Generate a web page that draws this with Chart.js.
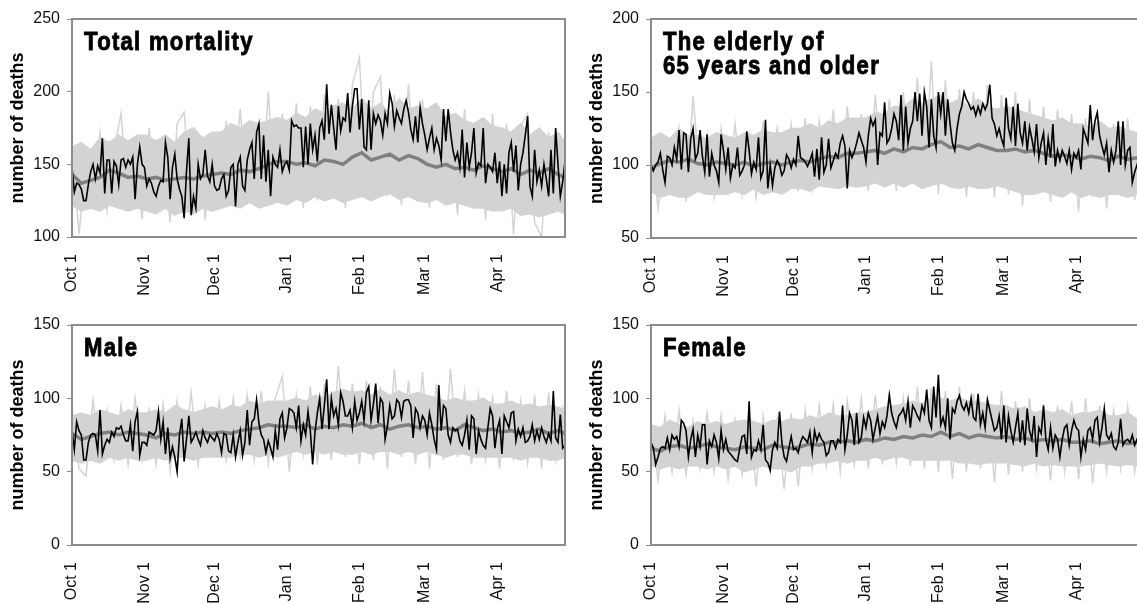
<!DOCTYPE html>
<html><head><meta charset="utf-8">
<script src="https://cdn.jsdelivr.net/npm/chart.js@4.4.1/dist/chart.umd.min.js"></script>
<style>
html,body{margin:0;padding:0;background:#fff;overflow:hidden;width:1137px;height:604px;position:relative;}
canvas{position:absolute;}
</style></head><body>
<canvas id="c1" width="570" height="302" style="left:0;top:0"></canvas>
<canvas id="c2" width="570" height="302" style="left:579px;top:0"></canvas>
<canvas id="c3" width="570" height="298" style="left:0;top:306px"></canvas>
<canvas id="c4" width="570" height="298" style="left:579px;top:306px"></canvas>
<script>
// ---- shared axis data ----
const tickDays = [0,31,61,92,123,151,182];
const tickLabels = ['Oct 1','Nov 1','Dec 1','Jan 1','Feb 1','Mar 1','Apr 1'];
const envDays = [0,4,8,12,16,20,24,28,32,36,40,44,48,52,56,60,64,68,72,76,80,84,88,92,96,100,104,108,112,116,120,124,128,132,136,140,144,148,152,156,160,164,168,172,176,180,184,188,192,196,200,204,208,211];
const spikeDays = [0,3,6,9,12,15,18,21,24,27,30,33,36,39,42,45,48,51,54,57,60,63,66,69,72,75,78,81,84,87,90,93,96,99,102,105,108,111,114,117,120,123,126,129,132,135,138,141,144,147,150,153,156,159,162,165,168,171,174,177,180,183,186,189,192,195,198,201,204,207,210];

// ---- Total mortality ----
const totalBlack = [
 148,131,137,136,133,125,125,136,145,150,140,149,144,168,130,153,153,130,152,149,136,153,154,148,153,150,155,126,150,162,150,
 148,135,140,137,131,128,135,139,138,165,155,126,148,157,140,133,128,113,145,168,115,128,120,150,140,143,160,142,138,150,
 135,132,133,140,143,128,132,148,150,121,150,155,135,132,153,160,165,140,172,178,140,170,138,160,128,155,150,148,160,145,150,
 152,146,180,176,177,175,175,148,176,150,178,160,170,152,175,180,167,205,171,191,175,160,190,173,182,180,199,172,190,202,202,
 174,195,162,160,194,160,185,178,184,180,170,185,178,199,192,176,187,182,178,188,194,186,174,167,183,165,189,178,
 170,160,168,175,160,168,163,153,188,166,188,172,160,153,158,148,174,141,165,148,158,175,144,151,149,175,137,150,148,145,158,
 137,152,128,150,130,158,165,145,163,132,150,158,170,183,135,128,160,138,146,135,150,140,128,160,130,175,150,128,138,152];
const totalAvg = [143,137,139,141,146,144,141,142, 140,141,139,140,141,140,142,143, 144,143,146,145,147,150,152, 152,150,151,149,153,152,150,155, 158,153,155,157,153,156,154, 150,148,150,147,148,146,149,147, 145,147,143,146,144,147,143,141];
const totalUpper = [162,165,160,168,165,170,166,170, 170,166,170,165,172,175,168,172, 172,178,175,180,178,180,182, 180,185,182,188,185,190,192,188, 195,188,192,185,195,188,190, 188,192,182,185,180,178,182,176, 175,172,178,170,175,168,172,165];
const totalLower = [122,118,120,118,122,120,118,120, 118,116,120,115,118,116,120,118, 120,122,120,124,120,122,124, 122,126,124,128,125,127,124,126, 128,125,128,130,126,128,125, 124,126,122,124,122,120,120,118, 118,120,115,116,114,116,118,116];
const totalSpike = [165,102,150,130,172,118,160,185,125,168, 112,175,130,160,110,178,186,125,170,112, 165,120,180,130,188,125,176,120,200,128, 185,130,192,120,190,125,198,130,195,120, 205,223,130,200,210,128,198,122,205,130, 195,120,192,125,185,115,188,120,180,112, 185,118,178,102,176,185,110,100,172,120, 165];

// ---- Elderly 65+ ----
const elderBlack = [
 100,96,100,102,108,97,88,106,105,100,112,104,124,97,122,121,95,118,125,104,108,124,106,95,121,92,108,100,96,88,121,
 110,97,112,91,100,98,112,93,96,100,123,110,94,102,97,119,91,96,131,84,100,86,98,103,100,93,96,107,104,98,
 104,100,120,105,104,102,99,103,108,92,111,90,119,95,100,118,98,103,108,105,115,120,113,84,110,105,109,115,122,117,112,
 102,120,132,127,131,100,122,120,143,115,118,125,135,130,117,148,110,140,115,125,130,150,130,149,120,150,140,112,145,120,112,
 150,135,150,120,145,128,115,110,125,135,140,150,145,142,138,140,134,140,135,142,138,142,155,132,128,120,125,118,
 113,146,125,118,140,113,142,122,115,130,110,126,118,109,128,105,115,122,100,118,105,128,99,110,103,110,106,101,110,97,108,
 105,110,97,125,120,115,141,117,130,136,120,113,107,115,95,110,102,110,130,100,130,100,110,112,88,95,100,105,98,100];
const elderAvg = [98,101,103,102,104,101,100,102, 101,100,102,99,101,102,100,102, 103,102,104,106,105,108,108, 109,110,108,111,109,112,111,114, 116,112,113,111,114,112,110, 110,111,109,110,108,106,107,106, 104,106,105,103,106,104,105,103];
const elderUpper = [118,122,118,125,120,120,118,122, 120,118,122,120,124,122,122,125, 125,128,125,130,128,132,132, 132,136,135,140,140,145,142,145, 148,142,145,140,145,140,138, 140,138,136,134,132,130,132,128, 128,126,130,125,126,124,122,120];
const elderLower = [82,78,80,78,78,82,80,80, 80,82,80,84,80,82,80,84, 84,82,86,85,84,86,85, 86,88,85,88,85,88,84,86, 88,85,84,86,84,84,86, 84,82,80,80,82,80,78,82, 78,80,78,80,80,78,80,82];
const elderSpike = [120,70,110,85,125,75,147,90,120,78, 125,82,128,80,120,78,130,84,125,85, 128,82,132,84,130,85,138,84,140,88, 135,82,148,86,145,82,150,88,160,85, 171,80,158,84,152,78,150,86,155,78, 148,80,150,72,145,80,140,75,138,80, 135,68,132,78,130,70,128,80,132,76, 125];

// ---- Male ----
const maleBlack = [
 78,65,84,78,75,58,58,70,75,76,75,64,92,62,68,72,70,77,74,80,79,81,75,71,71,82,64,84,91,61,70,
 70,68,77,76,75,78,91,72,84,62,80,59,67,60,50,75,86,57,72,88,70,73,77,72,68,78,73,70,75,73,
 71,76,72,63,76,75,64,63,75,60,70,78,61,70,92,68,84,86,99,83,75,72,63,71,66,60,78,65,86,90,73,
 80,93,92,90,80,95,71,82,75,91,78,55,77,90,100,79,95,113,79,100,88,93,82,104,98,88,88,92,80,98,85,
 90,98,85,104,108,85,96,110,83,100,97,72,81,95,86,88,99,97,87,98,99,99,95,73,93,90,80,88,
 85,75,90,82,72,65,109,78,95,93,75,70,80,78,79,71,68,75,85,65,88,86,62,78,72,68,66,80,93,88,66,
 79,85,62,88,84,80,90,91,71,79,74,80,70,71,74,82,71,78,72,80,74,70,76,71,105,73,70,89,66,68];
const maleAvg = [76,72,74,76,77,75,77,76, 75,73,76,75,77,76,77,76, 77,76,78,79,80,82,81, 81,80,82,79,81,80,82,81, 83,80,82,79,81,82,80, 81,79,80,78,82,80,78,79, 77,78,76,77,79,76,78,76];
const maleUpper = [88,90,88,92,90,88,92,90, 90,92,90,95,92,90,92,94, 92,95,94,98,96,98,98, 98,100,98,102,100,104,106,104, 105,102,106,102,105,102,104, 102,100,98,100,98,98,100,96, 96,98,95,96,94,95,94,92];
const maleLower = [58,56,58,56,60,58,60,58, 58,60,58,60,60,58,60,60, 60,60,62,62,60,62,60, 62,64,62,64,62,64,62,62, 64,62,64,64,62,64,62, 64,62,60,62,62,60,60,60, 60,60,58,60,60,58,58,60];
const maleSpike = [95,52,47,99,60,92,58,95,55,100, 58,92,55,96,50,98,60,104,55,95, 62,98,58,100,60,102,58,105,56,100, 115,50,102,62,108,55,110,58,122,60, 110,55,112,58,108,52,120,60,112,55, 118,52,110,58,120,60,105,55,102,58, 100,52,105,60,98,56,102,52,104,58, 95];

// ---- Female ----
const femaleBlack = [
 70,66,55,60,66,67,66,73,65,75,72,74,67,85,83,78,60,72,79,60,75,67,82,82,55,71,67,75,70,59,78,
 65,72,64,62,60,58,57,66,74,75,62,98,60,65,64,71,65,82,58,56,51,65,70,66,91,70,60,57,66,74,
 65,66,63,70,74,72,70,77,63,78,71,76,72,70,61,63,71,71,66,72,70,95,65,75,90,85,68,90,70,73,87,
 80,90,85,72,80,88,76,84,80,88,102,90,84,80,88,90,93,85,98,80,95,92,88,85,95,90,106,85,80,108,87,
 116,82,87,80,100,72,93,90,98,102,95,92,97,90,100,87,85,103,82,90,80,99,92,85,78,80,88,72,
 95,70,88,78,70,80,90,70,85,68,93,78,72,88,60,80,76,95,72,65,80,66,75,72,60,72,80,82,68,78,85,
 80,78,60,72,65,78,80,72,85,87,70,80,93,75,72,76,67,65,70,86,68,71,72,70,75,68,72,70,73,60];
const femaleAvg = [66,64,67,68,66,67,69,67, 66,65,67,66,65,68,67,66, 67,69,68,70,70,71,70, 72,71,73,72,74,73,75,74, 77,74,76,73,75,74,73, 74,72,73,71,72,71,72,70, 70,71,69,70,71,69,70,68];
const femaleUpper = [82,80,85,82,80,84,82,84, 82,84,85,84,82,85,84,86, 85,88,86,90,88,88,90, 90,92,94,95,96,98,96,100, 100,98,100,98,98,96,95, 95,92,94,90,92,90,92,88, 90,90,92,88,88,90,86,86];
const femaleLower = [54,52,54,52,54,54,52,54, 52,54,50,52,54,52,52,50, 54,54,56,56,58,56,58, 58,60,58,60,60,58,58,58, 58,58,56,56,55,56,56, 56,55,54,56,54,55,54,54, 54,55,56,55,54,55,54,55];
const femaleSpike = [85,44,88,50,92,48,85,52,90,50, 88,45,85,48,92,40,88,50,86,38, 90,40,92,52,95,54,96,50,98,55, 100,52,102,55,105,56,100,54,108,52, 107,50,105,45,108,50,103,52,100,43, 105,48,98,50,100,52,96,44,95,50, 98,45,100,42,95,50,92,52,94,50, 90];

// ---- plugins ----
const boxPlugin = {id:'box', afterDatasetsDraw(chart){
  const a = chart.chartArea, ctx = chart.ctx;
  ctx.save(); ctx.strokeStyle = '#8c8c8c'; ctx.lineWidth = 2;
  ctx.strokeRect(a.left, a.top, a.right - a.left, a.bottom - a.top); ctx.restore();
}};
const titlePlugin = {id:'panelTitle', afterDatasetsDraw(chart, args, opts){
  const a = chart.chartArea, ctx = chart.ctx;
  (opts.lines || []).forEach((t, i) => {
    ctx.save();
    ctx.font = 'bold 26px "Liberation Sans", Arial, sans-serif';
    if ('letterSpacing' in ctx) ctx.letterSpacing = '1.5px';
    ctx.fillStyle = '#000'; ctx.strokeStyle = '#000'; ctx.lineWidth = 0.9;
    ctx.textBaseline = 'alphabetic'; ctx.textAlign = 'left';
    ctx.translate(a.left + 12, a.top + 31 + i * 24);
    ctx.scale(0.85, 1);
    ctx.fillText(t, 0, 0);
    ctx.strokeText(t, 0, 0);
    ctx.restore();
  });
}};

const pts = (xs, ys) => ys.map((v, i) => ({x: xs ? xs[i] : i, y: v}));
const LIGHT = '#d3d3d3';

function makeChart(id, black, avg, upper, lower, spike, yMin, yMax, title, xAxisH){
  new Chart(document.getElementById(id), {
    type: 'line',
    data: {datasets: [
      {data: pts(envDays, lower), borderColor:LIGHT, borderWidth:1.5, fill:false, order:4},
      {data: pts(envDays, upper), borderColor:LIGHT, backgroundColor:LIGHT, borderWidth:1.5, fill:'-1', order:3},
      {data: pts(spikeDays, spike), borderColor:LIGHT, borderWidth:1.5, fill:false, order:2},
      {data: pts(envDays, avg), borderColor:'#808080', borderWidth:3.5, fill:false, order:1},
      {data: pts(null, black), borderColor:'#000', borderWidth:1.6, fill:false, order:0}
    ]},
    options: {
      responsive:false, animation:false, devicePixelRatio:1,
      layout:{padding:{top:19, right:5, left:0, bottom:0}},
      elements:{point:{radius:0}, line:{tension:0}},
      plugins:{legend:{display:false}, tooltip:{enabled:false}, panelTitle:{lines:title}},
      scales:{
        x:{type:'linear', min:0, max:211,
           afterBuildTicks:(s)=>{ s.ticks = tickDays.map(v=>({value:v})); },
           afterFit:(s)=>{ s.height = xAxisH; },
           grid:{display:false, drawTicks:false}, border:{display:false},
           ticks:{minRotation:90, maxRotation:90, padding:17, autoSkip:false,
                  font:{family:'"Liberation Sans", Arial, sans-serif', size:16}, color:'#111',
                  callback:(v, i)=>tickLabels[i]}},
        y:{min:yMin, max:yMax,
           afterFit:(s)=>{ s.width = 72; },
           grid:{display:true, drawOnChartArea:false, drawTicks:true, tickLength:5, color:'#8c8c8c'},
           border:{display:false},
           ticks:{stepSize:50, padding:7, font:{family:'"Liberation Sans", Arial, sans-serif', size:16}, color:'#111'},
           title:{display:true, text:'number of deaths', color:'#000',
                  font:{family:'"Liberation Sans", Arial, sans-serif', size:18, weight:'bold'},
                  padding:{top:7, bottom:0}}}
      }
    },
    plugins:[boxPlugin, titlePlugin]
  });
}

makeChart('c1', totalBlack, totalAvg, totalUpper, totalLower, totalSpike, 100, 250, ['Total mortality'], 65);
makeChart('c2', elderBlack, elderAvg, elderUpper, elderLower, elderSpike, 50, 200, ['The elderly of','65 years and older'], 64);
makeChart('c3', maleBlack, maleAvg, maleUpper, maleLower, maleSpike, 0, 150, ['Male'], 59);
makeChart('c4', femaleBlack, femaleAvg, femaleUpper, femaleLower, femaleSpike, 0, 150, ['Female'], 59);
</script>
</body></html>
